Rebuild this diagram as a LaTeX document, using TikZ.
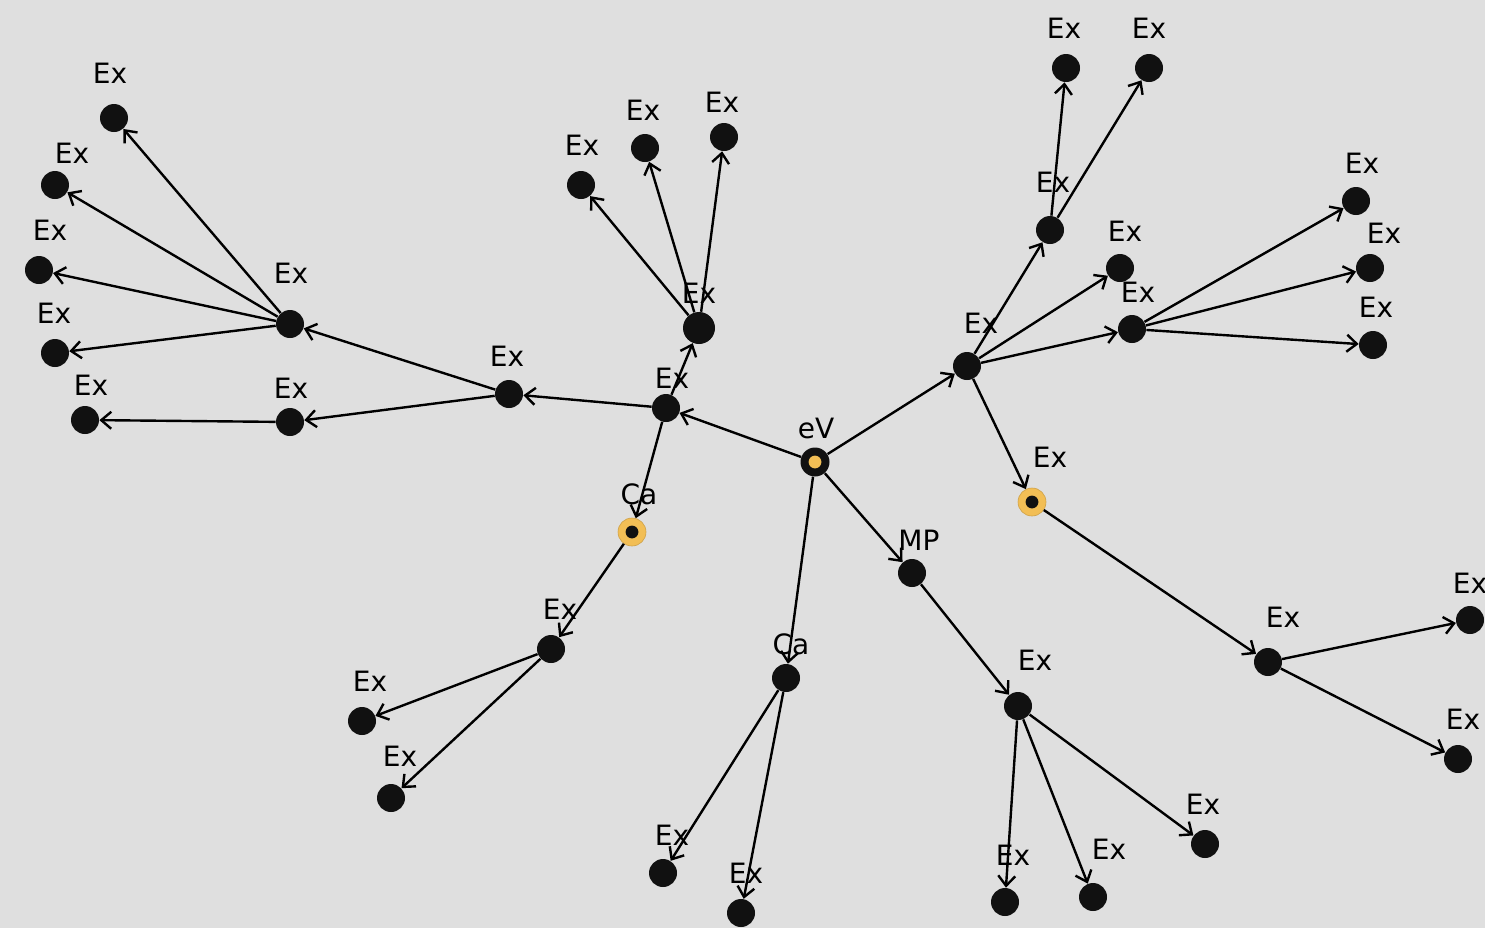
\documentclass[tikz,border=0pt]{standalone}
\usepackage{fontspec}
\setmainfont{DejaVu Sans}
\usetikzlibrary{arrows.meta}
\definecolor{bg}{HTML}{DFDFDF}
\definecolor{dot}{HTML}{111111}
\definecolor{gold}{HTML}{F2BE55}
\begin{document}
\begin{tikzpicture}[x=0.5pt,y=-0.5pt,
 dotn/.style={circle,fill=dot,inner sep=0pt,minimum size=14pt},
 bigdot/.style={dotn,minimum size=16pt},
 root/.style={circle,fill=dot,inner sep=0pt,minimum size=14.5pt,
   path picture={\fill[gold] (path picture bounding box.center) circle (3.2pt);}},
 ring/.style={circle,fill=gold,draw=gold!85!black,line width=0.3pt,inner sep=0pt,minimum size=14pt,
   path picture={\fill[dot] (path picture bounding box.center) circle (3.2pt);}},
 lbl/.style={font=\fontsize{14}{16}\selectfont,text=black,inner sep=0pt},
 edge/.style={draw=black,line width=1.2pt,-{Straight Barb[length=5pt,width=8.5pt]}}
]
\fill[bg] (0,0) rectangle (1485,928);
\useasboundingbox (0,0) rectangle (1485,928);

% nodes
\node[root] (r) at (815,462) {};
\node[dotn] (a) at (666,408) {};
\node[dotn] (b) at (509,394) {};
\node[dotn] (c) at (290,324) {};
\node[dotn] (d) at (290,422) {};
\node[dotn] (c1) at (114,118) {};
\node[dotn] (c2) at (55,185) {};
\node[dotn] (c3) at (39,270) {};
\node[dotn] (c4) at (55,353) {};
\node[dotn] (d1) at (85,420) {};
\node[bigdot] (e) at (699,328) {};
\node[dotn] (e1) at (581,185) {};
\node[dotn] (e2) at (645,148) {};
\node[dotn] (e3) at (724,137) {};
\node[ring] (ca) at (632,532) {};
\node[dotn] (f) at (551,649) {};
\node[dotn] (f1) at (362,721) {};
\node[dotn] (f2) at (391,798) {};
\node[dotn] (g) at (786,678) {};
\node[dotn] (g1) at (663,873) {};
\node[dotn] (g2) at (741,913) {};
\node[dotn] (mp) at (912,573) {};
\node[dotn] (h) at (1018,706) {};
\node[dotn] (h1) at (1005,902) {};
\node[dotn] (h2) at (1093,897) {};
\node[dotn] (h3) at (1205,844) {};
\node[dotn] (i) at (967,366) {};
\node[dotn] (j) at (1050,230) {};
\node[dotn] (j1) at (1066,68) {};
\node[dotn] (j2) at (1149,68) {};
\node[dotn] (k) at (1120,268) {};
\node[dotn] (l) at (1132,329) {};
\node[dotn] (l1) at (1356,201) {};
\node[dotn] (l2) at (1370,268) {};
\node[dotn] (l3) at (1373,345) {};
\node[ring] (o) at (1032,502) {};
\node[dotn] (m) at (1268,662) {};
\node[dotn] (m1) at (1470,620) {};
\node[dotn] (m2) at (1458,759) {};

% labels
\node[lbl] (rL) at (816,428) {eV};
\node[lbl] (aL) at (672,378) {Ex};
\node[lbl] (bL) at (507,356) {Ex};
\node[lbl] (cL) at (291,273) {Ex};
\node[lbl] (dL) at (291,388) {Ex};
\node[lbl] (c1L) at (110,73) {Ex};
\node[lbl] (c2L) at (72,153) {Ex};
\node[lbl] (c3L) at (50,230) {Ex};
\node[lbl] (c4L) at (54,313) {Ex};
\node[lbl] (d1L) at (91,385) {Ex};
\node[lbl] (eL) at (699,293) {Ex};
\node[lbl] (e1L) at (582,145) {Ex};
\node[lbl] (e2L) at (643,110) {Ex};
\node[lbl] (e3L) at (722,102) {Ex};
\node[lbl] (caL) at (639,494) {Ca};
\node[lbl] (fL) at (560,609) {Ex};
\node[lbl] (f1L) at (370,681) {Ex};
\node[lbl] (f2L) at (400,756) {Ex};
\node[lbl] (gL) at (791,644) {Ca};
\node[lbl] (g1L) at (672,835) {Ex};
\node[lbl] (g2L) at (746,873) {Ex};
\node[lbl] (mpL) at (919,540) {MP};
\node[lbl] (hL) at (1035,660) {Ex};
\node[lbl] (h1L) at (1013,855) {Ex};
\node[lbl] (h2L) at (1109,849) {Ex};
\node[lbl] (h3L) at (1203,804) {Ex};
\node[lbl] (iL) at (981,323) {Ex};
\node[lbl] (jL) at (1053,182) {Ex};
\node[lbl] (j1L) at (1064,28) {Ex};
\node[lbl] (j2L) at (1149,28) {Ex};
\node[lbl] (kL) at (1125,231) {Ex};
\node[lbl] (lL) at (1138,292) {Ex};
\node[lbl] (l1L) at (1362,163) {Ex};
\node[lbl] (l2L) at (1384,233) {Ex};
\node[lbl] (l3L) at (1376,307) {Ex};
\node[lbl] (oL) at (1050,457) {Ex};
\node[lbl] (mL) at (1283,617) {Ex};
\node[lbl] (m1L) at (1470,583) {Ex};
\node[lbl] (m2L) at (1463,719) {Ex};

% edges
\draw[edge] (r) -- (a);
\draw[edge] (a) -- (b);
\draw[edge] (b) -- (c);
\draw[edge] (b) -- (d);
\draw[edge] (c) -- (c1);
\draw[edge] (c) -- (c2);
\draw[edge] (c) -- (c3);
\draw[edge] (c) -- (c4);
\draw[edge] (d) -- (d1);
\draw[edge] (a) -- (e);
\draw[edge] (e) -- (e1);
\draw[edge] (e) -- (e2);
\draw[edge] (e) -- (e3);
\draw[edge] (a) -- (ca);
\draw[edge] (ca) -- (f);
\draw[edge] (f) -- (f1);
\draw[edge] (f) -- (f2);
\draw[edge] (r) -- (g);
\draw[edge] (g) -- (g1);
\draw[edge] (g) -- (g2);
\draw[edge] (r) -- (mp);
\draw[edge] (mp) -- (h);
\draw[edge] (h) -- (h1);
\draw[edge] (h) -- (h2);
\draw[edge] (h) -- (h3);
\draw[edge] (r) -- (i);
\draw[edge] (i) -- (j);
\draw[edge] (j) -- (j1);
\draw[edge] (j) -- (j2);
\draw[edge] (i) -- (k);
\draw[edge] (i) -- (l);
\draw[edge] (l) -- (l1);
\draw[edge] (l) -- (l2);
\draw[edge] (l) -- (l3);
\draw[edge] (i) -- (o);
\draw[edge] (o) -- (m);
\draw[edge] (m) -- (m1);
\draw[edge] (m) -- (m2);
\end{tikzpicture}
\end{document}
